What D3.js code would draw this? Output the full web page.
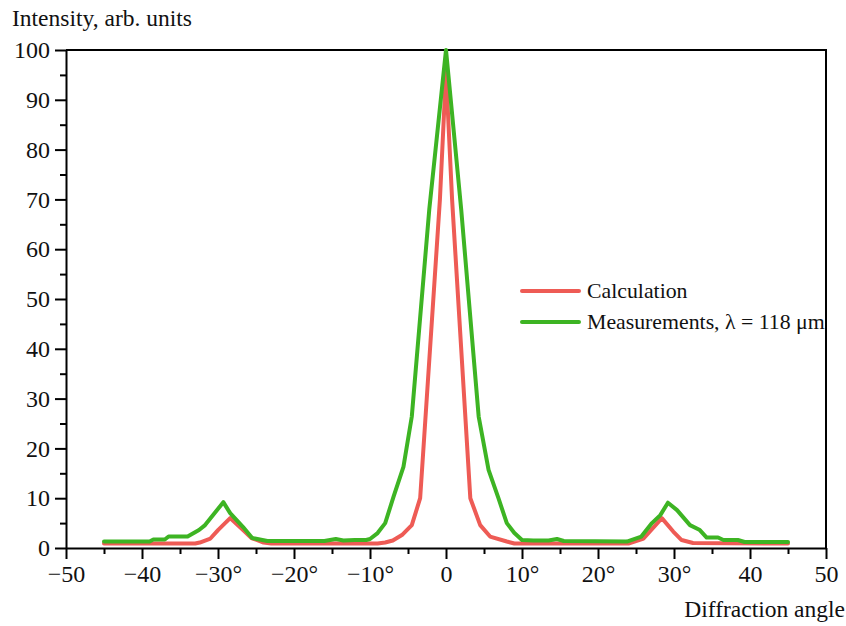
<!DOCTYPE html>
<html>
<head>
<meta charset="utf-8">
<script src="https://cdn.jsdelivr.net/npm/d3@7"></script>
<style>
  html, body { margin: 0; padding: 0; background: #fff; }
  svg { display: block; }
  text { font-family: "Liberation Serif", "Times New Roman", serif; fill: #111; }
</style>
</head>
<body>
<svg id="chart" width="846" height="626"></svg>
<script>
// ---- Data ----
const calcAngles = [-45, -33, -32.4, -31, -30, -28.4, -26.7, -25.6, -24, -23, -9, -8, -7, -5.8, -4.5, -3.4, -0.8, 0, 0.8, 3.2, 4.5, 5.8, 8, 9, 24, 24.6, 26, 28.4, 29.9, 31, 32.5, 45];
const calcValues = [0.9, 0.9, 1.1, 1.9, 3.6, 6.0, 3.6, 2.0, 1.1, 0.9, 0.9, 1.1, 1.5, 2.6, 4.6, 10, 70, 95.6, 70, 10, 4.6, 2.3, 1.3, 0.9, 0.9, 1.2, 1.9, 6.0, 3.3, 1.6, 1.0, 0.9];

const measAngles = [-45, -39, -38.5, -37, -36.5, -34, -32.5, -31.7, -29.3, -28.4, -26.7, -25.5, -23.5, -16, -14.5, -13.5, -12, -10.5, -10, -9, -8, -6.9, -5.6, -4.5, -2.2, 0, 2.0, 4.3, 5.6, 6.9, 8, 9, 10, 11.5, 13.5, 14.6, 15.5, 23.8, 25.7, 27.1, 28.2, 29.2, 30.4, 32.1, 33.4, 34.3, 35.8, 36.5, 38.4, 39.3, 45];
const measValues = [1.3, 1.3, 1.7, 1.7, 2.3, 2.3, 3.6, 4.6, 9.2, 7.0, 4.2, 2.0, 1.4, 1.4, 1.8, 1.5, 1.6, 1.6, 1.8, 3.0, 5.0, 10.3, 16.3, 26.4, 68, 100, 68, 26.4, 15.7, 10, 5, 3, 1.6, 1.5, 1.5, 1.8, 1.4, 1.3, 2.3, 5, 6.6, 9.1, 7.6, 4.6, 3.6, 2.1, 2.1, 1.6, 1.6, 1.2, 1.2];

const xTickValues = [-50, -40, -30, -20, -10, 0, 10, 20, 30, 40, 50];
const xTickLabels = ["\u221250", "\u221240", "\u221230\u00b0", "\u221220\u00b0", "\u221210\u00b0", "0", "10\u00b0", "20\u00b0", "30\u00b0", "40", "50"];
const yTickValues = [0, 10, 20, 30, 40, 50, 60, 70, 80, 90, 100];
const seriesNames = ["Calculation", "Measurements, \u03bb = 118 \u03bcm"];
const seriesColors = ["#ee5b55", "#3db423"];

// ---- Layout ----
const svg = d3.select("#chart");
const mLeft = 66, mRight = 826, mTop = 50, mBottom = 548;
const x = d3.scaleLinear().domain([-50, 50]).range([mLeft, mRight]);
const y = d3.scaleLinear().domain([0, 100]).range([mBottom, mTop]);

// frame (top & right)
svg.append("path")
  .attr("d", `M${mLeft},${mTop}H${mRight}V${mBottom}`)
  .attr("fill", "none").attr("stroke", "#000").attr("stroke-width", 2);

// minor ticks
const xMinor = d3.range(-45, 50, 10);
const yMinor = d3.range(5, 100, 10);

const xAxis = d3.axisBottom(x).tickValues(xTickValues)
  .tickFormat((d, i) => xTickLabels[i]).tickSize(11).tickSizeOuter(0).tickPadding(6);
const gx = svg.append("g").attr("transform", `translate(0,${mBottom})`).call(xAxis);
gx.select(".domain").attr("stroke-width", 2);
gx.selectAll(".tick line").attr("stroke-width", 2);
gx.selectAll("text").style("font-size", "24px").attr("fill", "#111")
  .style("font-family", "'Liberation Serif', serif");
svg.append("g").attr("transform", `translate(0,${mBottom})`)
  .call(d3.axisBottom(x).tickValues(xMinor).tickSize(6).tickFormat(""))
  .call(g => g.select(".domain").remove())
  .selectAll("line").attr("stroke-width", 2);

const yAxis = d3.axisLeft(y).tickValues(yTickValues).tickSize(11).tickSizeOuter(0).tickPadding(5);
const gy = svg.append("g").attr("transform", `translate(${mLeft},0)`).call(yAxis);
gy.select(".domain").attr("stroke-width", 2);
gy.selectAll(".tick line").attr("stroke-width", 2);
gy.selectAll("text").style("font-size", "24px").attr("fill", "#111")
  .style("font-family", "'Liberation Serif', serif");
svg.append("g").attr("transform", `translate(${mLeft},0)`)
  .call(d3.axisLeft(y).tickValues(yMinor).tickSize(6).tickFormat(""))
  .call(g => g.select(".domain").remove())
  .selectAll("line").attr("stroke-width", 2);

// axis titles
svg.append("text").attr("x", 12).attr("y", 26).style("font-size", "23.5px")
  .text("Intensity, arb. units");
svg.append("text").attr("x", 845).attr("y", 617).attr("text-anchor", "end").style("font-size", "23.5px")
  .text("Diffraction angle");

// lines
const line = d3.line().x(d => x(d[0])).y(d => y(d[1]));
const calcData = calcAngles.map((a, i) => [a, calcValues[i]]);
const measData = measAngles.map((a, i) => [a, measValues[i]]);

svg.append("path").datum(calcData).attr("d", line)
  .attr("fill", "none").attr("stroke", seriesColors[0]).attr("stroke-width", 4)
  .attr("stroke-linejoin", "round").attr("stroke-linecap", "round");
svg.append("path").datum(measData).attr("d", line)
  .attr("fill", "none").attr("stroke", seriesColors[1]).attr("stroke-width", 4)
  .attr("stroke-linejoin", "round").attr("stroke-linecap", "round");

// legend
const legendY = [291, 322];
seriesNames.forEach((name, i) => {
  svg.append("line").attr("x1", 522).attr("x2", 579).attr("y1", legendY[i]).attr("y2", legendY[i])
    .attr("stroke", seriesColors[i]).attr("stroke-width", 4).attr("stroke-linecap", "round");
  svg.append("text").attr("x", 587).attr("y", legendY[i] + 7).style("font-size", "21.8px").text(name);
});
</script>
</body>
</html>
